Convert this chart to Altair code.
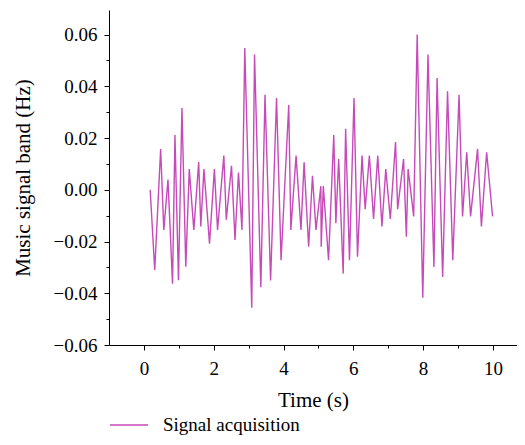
import altair as alt
import pandas as pd

time_s = [0.18, 0.31, 0.48, 0.57, 0.69, 0.82, 0.89, 0.99, 1.09, 1.20,
          1.30, 1.43, 1.57, 1.63, 1.72, 1.88, 2.02, 2.11, 2.29, 2.36,
          2.51, 2.61, 2.71, 2.81, 2.89, 3.09, 3.17, 3.35, 3.47, 3.63,
          3.80, 3.93, 4.15, 4.21, 4.36, 4.50, 4.59, 4.72, 4.83, 4.93,
          5.07, 5.08, 5.14, 5.29, 5.44, 5.50, 5.58, 5.71, 5.78, 5.89,
          6.02, 6.12, 6.25, 6.34, 6.46, 6.58, 6.70, 6.82, 6.93, 7.06,
          7.21, 7.27, 7.44, 7.52, 7.57, 7.73, 7.83, 7.99, 8.14, 8.31,
          8.40, 8.56, 8.70, 8.85, 9.03, 9.13, 9.25, 9.36, 9.56, 9.67,
          9.82, 9.99]
signal = [0.0000, -0.0310, 0.0158, -0.0155, 0.0040, -0.0363, 0.0212, -0.0350, 0.0316, -0.0297,
          0.0080, -0.0155, 0.0107, -0.0142, 0.0080, -0.0208, 0.0080, -0.0155, 0.0132, -0.0116,
          0.0093, -0.0194, 0.0067, -0.0155, 0.0548, -0.0456, 0.0523, -0.0377, 0.0367, -0.0351,
          0.0355, -0.0272, 0.0328, -0.0155, 0.0132, -0.0155, 0.0106, -0.0220, 0.0054, -0.0155,
          0.0014, -0.0220, 0.0014, -0.0272, 0.0212, -0.0129, 0.0119, -0.0324, 0.0236, -0.0272,
          0.0355, -0.0259, 0.0132, -0.0075, 0.0132, -0.0113, 0.0132, -0.0142, 0.0080, -0.0113,
          0.0185, -0.0075, 0.0119, -0.0181, 0.0080, -0.0103, 0.0600, -0.0417, 0.0523, -0.0298,
          0.0432, -0.0337, 0.0381, -0.0272, 0.0367, -0.0103, 0.0145, -0.0103, 0.0158, -0.0142,
          0.0145, -0.0103]
series_name = "Signal acquisition"

x_major = [0, 2, 4, 6, 8, 10]
x_minor = [1, 3, 5, 7, 9]
y_major = [-0.06, -0.04, -0.02, 0.0, 0.02, 0.04, 0.06]
y_minor = [-0.05, -0.03, -0.01, 0.01, 0.03, 0.05]

df = pd.DataFrame({"t": time_s, "v": signal, "series": [series_name] * len(time_s)})

FONT = "Liberation Serif"
xscale = alt.Scale(domain=[-1, 10.69], nice=False, zero=False)
yscale = alt.Scale(domain=[-0.06, 0.0695], nice=False, zero=False)

line = alt.Chart(df).mark_line(strokeWidth=1.4, clip=True).encode(
    x=alt.X("t:Q", scale=xscale,
            axis=alt.Axis(title="Time (s)", values=x_major, format="d",
                          tickSize=5, labelPadding=9, titlePadding=11, orient="bottom")),
    y=alt.Y("v:Q", scale=yscale,
            axis=alt.Axis(title="Music signal band (Hz)", values=y_major, format=".2f",
                          tickSize=5, labelPadding=7, titlePadding=20, orient="left")),
    color=alt.Color("series:N", scale=alt.Scale(range=["#c64ab9"]),
                    legend=alt.Legend(title=None, orient="none", legendX=0, legendY=395,
                                      symbolType="stroke", symbolSize=1444,
                                      symbolStrokeWidth=1.4, labelFont=FONT,
                                      labelFontSize=19, labelOffset=14,
                                      labelColor="black")),
)

minor = alt.Chart(df).mark_point(opacity=0).encode(
    x=alt.X("t:Q", scale=xscale,
            axis=alt.Axis(title=None, values=x_minor, labels=False, tickSize=3,
                          domain=False, orient="bottom")),
    y=alt.Y("v:Q", scale=yscale,
            axis=alt.Axis(title=None, values=y_minor, labels=False, tickSize=3,
                          domain=False, orient="left")),
)

chart = (
    alt.layer(line, minor)
    .resolve_axis(x="independent", y="independent")
    .properties(width=408, height=335,
                autosize=alt.AutoSizeParams(type="none"),
                padding={"left": 101, "top": 2, "right": 0, "bottom": 92})
    .configure_view(stroke=None)
    .configure_axis(grid=False, domainColor="black", tickColor="black",
                    labelColor="black", titleColor="black",
                    labelFont=FONT, titleFont=FONT, labelFontSize=19,
                    titleFontSize=21, titleFontWeight="normal",
                    domainWidth=1, tickWidth=1)
)

chart.save("out.html", embed_options={"renderer": "svg", "actions": False})
